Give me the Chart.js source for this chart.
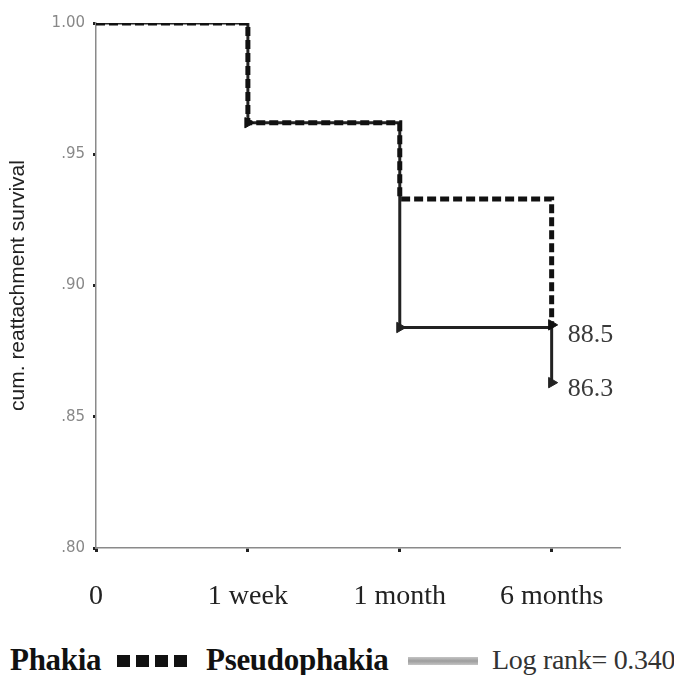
<!DOCTYPE html>
<html><head><meta charset="utf-8">
<script src="https://cdn.jsdelivr.net/npm/chart.js@4.4.1/dist/chart.umd.min.js"></script>
<style>
html,body{margin:0;padding:0;background:#fff;width:674px;height:675px;overflow:hidden;}
#wrap{position:absolute;left:0;top:0;width:674px;height:635px;}
#legend{position:absolute;left:0;top:641px;width:674px;height:34px;font-family:"Liberation Serif","Times New Roman",serif;color:#111;white-space:nowrap;}
#legend span{position:absolute;top:0;line-height:37px;}
.b{font-weight:bold;font-size:31px;letter-spacing:-0.3px;}
.sq{position:absolute;top:14px;width:13px;height:12px;background:#111;}
.bar{position:absolute;top:16px;width:70px;height:8px;background:linear-gradient(#c4c4c4,#9d9d9d,#c4c4c4);}
</style></head>
<body>
<div id="wrap"><canvas id="c"></canvas></div>
<div id="legend">
  <span class="b" style="left:10px">Phakia</span>
  <div class="sq" style="left:117px"></div><div class="sq" style="left:136px"></div><div class="sq" style="left:155px"></div><div class="sq" style="left:174px"></div>
  <span class="b" style="left:206px">Pseudophakia</span>
  <div class="bar" style="left:408px"></div>
  <span style="left:492px;font-size:28px;color:#333;letter-spacing:-0.3px">Log rank= 0.340</span>
</div>
<script>
const categories = ["0", "1 week", "1 month", "6 months"];
const xPositions = [0, 1, 2, 3];
const phakia = [1.00, 0.962, 0.933, 0.885];
const pseudophakia = [1.00, 0.962, 0.884, 0.863];
const phakiaCensor = [0, 1, 0, 1];
const pseudoCensor = [0, 0, 1, 1];
const endLabels = ["88.5", "86.3"];
const yTickValues = [0.80, 0.85, 0.90, 0.95, 1.00];
const yTickLabels = [".80", ".85", ".90", ".95", "1.00"];
const yTitle = "cum. reattachment survival";

const toPts = arr => arr.map((v, i) => ({x: xPositions[i], y: v}));

const endLabelPlugin = {
  id: 'endLabels',
  afterDatasetsDraw(chart) {
    const ctx = chart.ctx;
    ctx.save();
    ctx.font = '26px "Liberation Serif", "Times New Roman", serif';
    ctx.fillStyle = '#3a3a3a';
    ctx.textAlign = 'left';
    ctx.textBaseline = 'middle';
    const offs = [10, 7];
    chart.data.datasets.forEach((ds, i) => {
      const meta = chart.getDatasetMeta(i);
      const p = meta.data[meta.data.length - 1];
      ctx.fillText(endLabels[i], p.x + 16, p.y + offs[i]);
    });
    ctx.restore();
  }
};

new Chart(document.getElementById('c'), {
  type: 'line',
  data: {
    datasets: [
      {
        label: 'Phakia',
        data: toPts(phakia),
        stepped: 'before',
        borderColor: '#111',
        borderWidth: 5,
        borderDash: [9, 4],
        borderCapStyle: 'butt',
        fill: false,
        pointStyle: 'triangle',
        rotation: 90,
        pointRadius: phakiaCensor.map(c => c ? 6 : 0),
        pointBackgroundColor: '#111',
        pointBorderColor: '#111',
        pointBorderWidth: 1,
        order: 0
      },
      {
        label: 'Pseudophakia',
        data: toPts(pseudophakia),
        stepped: 'before',
        borderColor: '#222',
        borderWidth: 3,
        fill: false,
        pointStyle: 'triangle',
        rotation: 90,
        pointRadius: pseudoCensor.map(c => c ? 6 : 0),
        pointBackgroundColor: '#222',
        pointBorderColor: '#222',
        pointBorderWidth: 1,
        order: 1
      }
    ]
  },
  options: {
    responsive: true,
    maintainAspectRatio: false,
    animation: false,
    layout: {padding: {top: 23, right: 54, left: 0, bottom: 0}},
    plugins: {legend: {display: false}, tooltip: {enabled: false}},
    scales: {
      x: {
        type: 'linear',
        min: 0,
        max: 3.45,
        afterBuildTicks: s => { s.ticks = xPositions.map(v => ({value: v})); },
        afterFit: s => { s.height = 87; },
        grid: {drawOnChartArea: false, drawTicks: true, tickLength: 4, tickColor: '#222', tickWidth: 3},
        border: {display: true, color: '#8a8a8a', width: 1.5},
        ticks: {
          autoSkip: false,
          maxRotation: 0,
          padding: 28,
          color: '#222',
          font: {family: '"Liberation Serif", "Times New Roman", serif', size: 28},
          callback: (v, i) => categories[i]
        }
      },
      y: {
        min: 0.80,
        max: 1.00,
        afterBuildTicks: s => { s.ticks = yTickValues.map(v => ({value: v})); },
        afterFit: s => { s.width = 96; },
        grid: {drawOnChartArea: false, drawTicks: true, tickLength: 3, tickColor: '#222', tickWidth: 3},
        border: {display: true, color: '#8a8a8a', width: 1.5},
        ticks: {
          padding: 8,
          color: '#888',
          font: {family: '"DejaVu Sans", sans-serif', size: 15},
          callback: (v, i) => yTickLabels[i]
        },
        title: {
          display: true,
          text: yTitle,
          color: '#222',
          padding: {top: 6, bottom: 0},
          font: {family: '"Liberation Sans", Arial, sans-serif', size: 21}
        }
      }
    }
  },
  plugins: [endLabelPlugin]
});
</script>
</body></html>
